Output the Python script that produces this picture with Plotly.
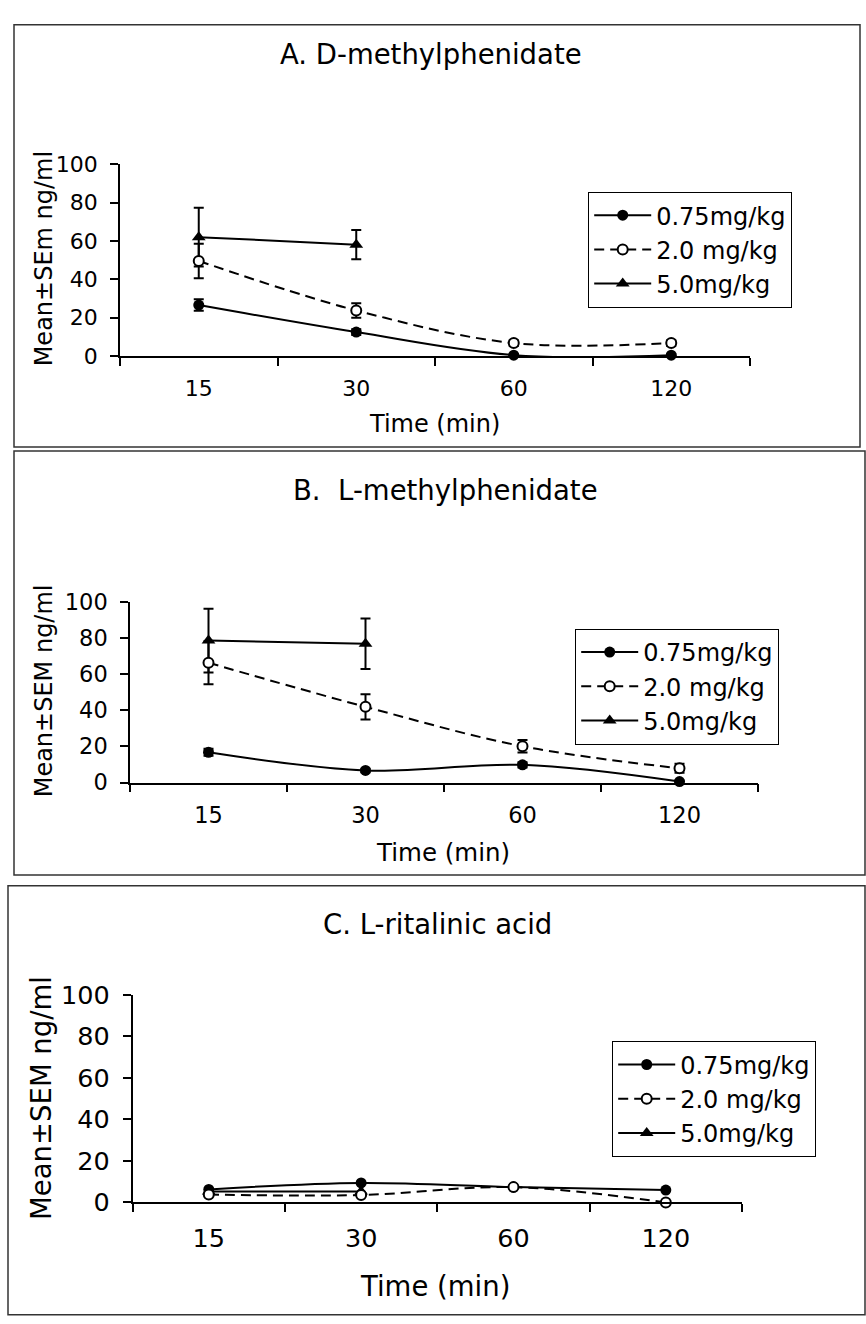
import plotly.graph_objects as go

W, H = 866, 1324

times = ["15", "30", "60", "120"]
series_names = ["0.75mg/kg", "2.0 mg/kg", "5.0mg/kg"]

# Panel A: D-methylphenidate
a_075 = [26.6, 12.5, 0.5, 0.5]
a_075_err = [3.0, 1.5, 0.5, 0.5]
a_20 = [49.6, 23.8, 6.8, 6.8]
a_20_err = [9.0, 3.8, 1.5, 1.5]
a_50 = [62.0, 58.1]
a_50_err = [15.3, 7.6]

# Panel B: L-methylphenidate
b_075 = [16.8, 6.7, 9.8, 0.5]
b_075_err = [2.0, 1.0, 1.5, 0.5]
b_20 = [66.5, 42.0, 20.1, 7.9]
b_20_err = [11.9, 7.0, 3.5, 2.5]
b_50 = [78.8, 77.0]
b_50_err = [17.7, 14.0]

# Panel C: L-ritalinic acid
c_075 = [6.3, 9.4, 7.4, 6.0]
c_20 = [3.8, 3.6, 7.4, 0.0]
c_50 = [5.3, 5.3]

titles = ["A. D-methylphenidate", "B.  L-methylphenidate", "C. L-ritalinic acid"]
ytitles = ["Mean±SEm ng/ml", "Mean±SEM ng/ml", "Mean±SEM ng/ml"]
xtitle = "Time (min)"

FONT = "Verdana, DejaVu Sans, sans-serif"

def px(x):
    return x / W

def py(y):
    return 1 - y / H

# geometry (pixels)
panels = [
    dict(x0=120, x1=750, y0=349, y100=152.7, fs=22, yfs=24, xfs=24, tfs=27.5, lfs=24,
         leg=(588, 181), title=(431, 40), ytl=(44, 250), xtl=(434, 418),
         box=(14, 10, 860, 442)),
    dict(x0=130, x1=758, y0=785.3, y100=601, fs=22.5, yfs=24, xfs=24.5, tfs=27.5, lfs=24,
         leg=(575, 628), title=(446, 486), ytl=(44, 692), xtl=(443, 857),
         box=(14, 446, 865, 880)),
    dict(x0=132.6, x1=742, y0=1215, y100=1002.7, fs=25.5, yfs=27.5, xfs=27.5, tfs=27.5, lfs=24,
         leg=(612, 1050), title=(437, 930), ytl=(41, 1108), xtl=(435, 1300),
         box=(8, 891, 865, 1330)),
]

data = [
    (a_075, a_075_err, a_20, a_20_err, a_50, a_50_err),
    (b_075, b_075_err, b_20, b_20_err, b_50, b_50_err),
    (c_075, None, c_20, None, c_50, None),
]

fig = go.Figure()

def eb(arr):
    if arr is None:
        return None
    return dict(type="data", array=arr, visible=True, color="black", thickness=2, width=5)

for i, (p, d) in enumerate(zip(panels, data)):
    n = "" if i == 0 else str(i + 1)
    xa, ya = "x" + n, "y" + n
    leg = "legend" + n
    v075, e075, v20, e20, v50, e50 = d
    # draw order: 5.0 first, then 0.75, then 2.0 on top
    fig.add_trace(go.Scatter(
        x=times[:len(v50)], y=v50, name=series_names[2], xaxis=xa, yaxis=ya,
        legend=leg, legendrank=3, mode="lines+markers",
        line=dict(color="black", width=2, shape="spline"),
        marker=dict(symbol="triangle-up", size=12, color="black"),
        error_y=eb(e50), cliponaxis=False))
    fig.add_trace(go.Scatter(
        x=times, y=v075, name=series_names[0], xaxis=xa, yaxis=ya,
        legend=leg, legendrank=1, mode="lines+markers",
        line=dict(color="black", width=2, shape="spline"),
        marker=dict(symbol="circle", size=11, color="black"),
        error_y=eb(e075), cliponaxis=False))
    fig.add_trace(go.Scatter(
        x=times, y=v20, name=series_names[1], xaxis=xa, yaxis=ya,
        legend=leg, legendrank=2, mode="lines+markers",
        line=dict(color="black", width=2, dash="10px,6px", shape="spline"),
        marker=dict(symbol="circle", size=10, color="white",
                    line=dict(color="black", width=2)),
        error_y=eb(e20), cliponaxis=False))

    fig.update_layout(**{
        "xaxis" + n: dict(
            domain=[px(p["x0"]), px(p["x1"])], anchor=ya,
            type="category", categoryorder="array", categoryarray=times,
            range=[-0.5, 3.5], tickson="boundaries", ticks="outside", ticklen=8,
            tickwidth=1.5, tickcolor="black", showline=True, linecolor="black",
            linewidth=1.5, showgrid=False, zeroline=False,
            tickfont=dict(family=FONT, size=p["fs"], color="black"),
            ticklabelstandoff=12, fixedrange=True),
        "yaxis" + n: dict(
            domain=[py(p["y0"]), py(p["y100"])], anchor=xa,
            range=[0, 100], tickvals=[0, 20, 40, 60, 80, 100],
            ticks="outside", ticklen=8, tickwidth=1.5, tickcolor="black",
            showline=True, linecolor="black", linewidth=1.5,
            showgrid=False, zeroline=False,
            tickfont=dict(family=FONT, size=p["fs"], color="black"),
            ticklabelstandoff=8, fixedrange=True),
        leg: dict(
            x=px(p["leg"][0]), y=py(p["leg"][1]), xanchor="left", yanchor="top",
            bordercolor="black", borderwidth=1.2, bgcolor="white",
            font=dict(family=FONT, size=p["lfs"], color="black"),
            itemwidth=57, tracegroupgap=0, traceorder="normal"),
    })

    fig.add_annotation(text=titles[i], x=px(p["title"][0]), y=py(p["title"][1]),
                       xref="paper", yref="paper", showarrow=False,
                       xanchor="center", yanchor="middle",
                       font=dict(family=FONT, size=p["tfs"], color="black"))
    fig.add_annotation(text=ytitles[i], x=px(p["ytl"][0]), y=py(p["ytl"][1]),
                       xref="paper", yref="paper", showarrow=False, textangle=-90,
                       xanchor="center", yanchor="middle",
                       font=dict(family=FONT, size=p["yfs"], color="black"))
    fig.add_annotation(text=xtitle, x=px(p["xtl"][0]), y=py(p["xtl"][1]),
                       xref="paper", yref="paper", showarrow=False,
                       xanchor="center", yanchor="middle",
                       font=dict(family=FONT, size=p["xfs"], color="black"))
    bx = p["box"]
    fig.add_shape(type="rect", xref="paper", yref="paper",
                  x0=px(bx[0]), y0=py(bx[3]), x1=px(bx[2]), y1=py(bx[1]),
                  line=dict(color="#333333", width=1.5), layer="below")

fig.update_layout(
    width=W, height=H, margin=dict(l=0, r=0, t=0, b=0),
    paper_bgcolor="white", plot_bgcolor="white", showlegend=True,
)

fig.write_html("out.html")
